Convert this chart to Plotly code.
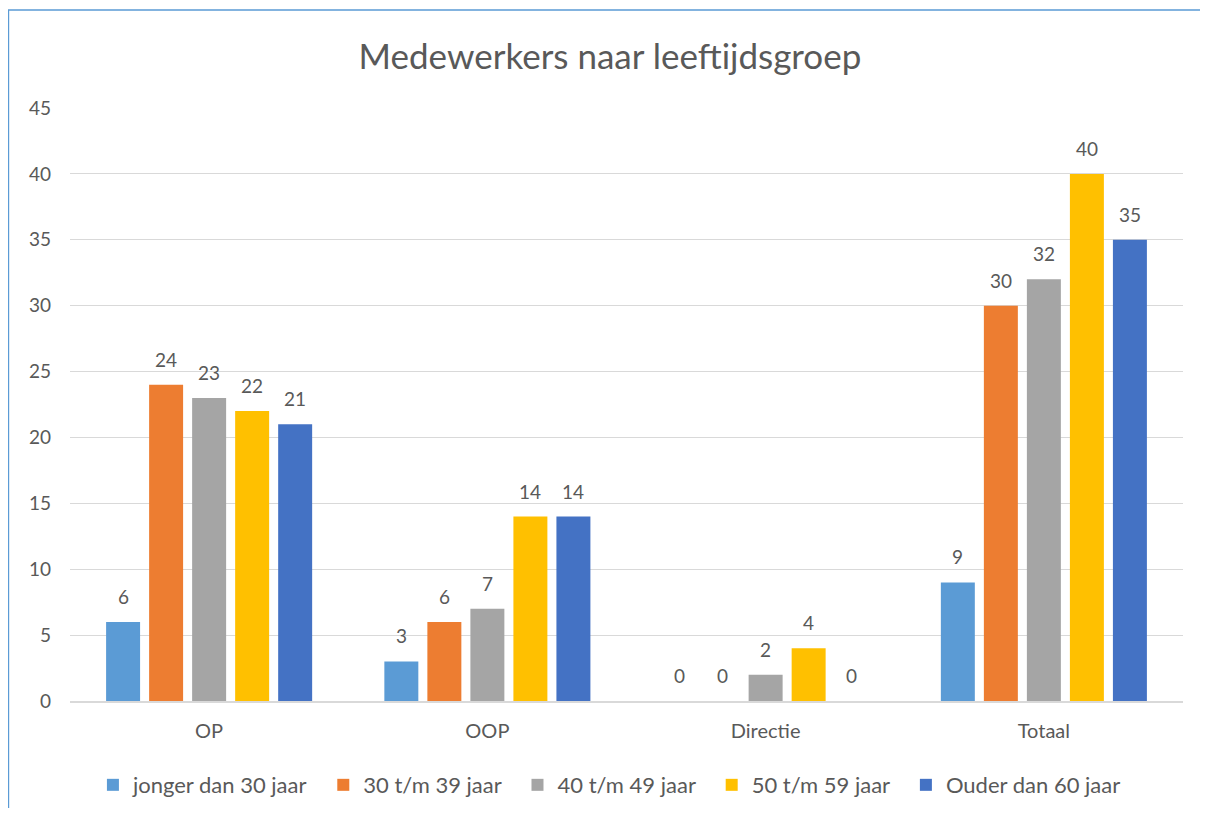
import plotly.graph_objects as go

categories = ["OP", "OOP", "Directie", "Totaal"]
series_names = ["jonger dan 30 jaar", "30 t/m 39 jaar", "40 t/m 49 jaar",
                "50 t/m 59 jaar", "Ouder dan 60 jaar"]
values = [
    [6, 3, 0, 9],
    [24, 6, 0, 30],
    [23, 7, 2, 32],
    [22, 14, 4, 40],
    [21, 14, 0, 35],
]
colors = ["#5B9BD5", "#ED7D31", "#A5A5A5", "#FFC000", "#4472C4"]
y_ticks = list(range(0, 50, 5))

font_family = "Lato, 'Noto Sans', sans-serif"
text_color = "#595959"
bargap = 0.227

fig = go.Figure()
for name, vals, col in zip(series_names, values, colors):
    fig.add_trace(go.Bar(
        x=categories,
        y=vals,
        name=name + "\u00a0\u00a0",  # a bit of extra room between legend items
        marker=dict(color=col, line_width=0),
    ))

# value labels above each bar
n = len(series_names)
slot = (1 - bargap) / n
for i, vals in enumerate(values):
    for j, v in enumerate(vals):
        fig.add_annotation(
            x=j - (1 - bargap) / 2 + (i + 0.5) * slot,
            y=v,
            text=str(v),
            showarrow=False,
            yanchor="bottom",
            yshift=12,
            font=dict(size=19, color=text_color, family=font_family),
        )

fig.update_layout(
    width=1192,
    height=800,
    margin=dict(l=62, r=17, t=100, b=107, autoexpand=False),
    paper_bgcolor="white",
    plot_bgcolor="white",
    barmode="group",
    bargap=bargap,
    bargroupgap=0.21,
    font=dict(family=font_family, color=text_color, size=19),
    title=dict(
        text="Medewerkers naar leeftijdsgroep",
        x=0.505, xref="container", xanchor="center",
        y=1 - 49 / 800, yref="container", yanchor="middle",
        font=dict(size=35, color=text_color, family=font_family),
    ),
    legend=dict(
        orientation="h",
        x=0.4896, xanchor="center",
        y=-0.1417, yanchor="middle",
        font=dict(size=22, color=text_color),
        traceorder="normal",
    ),
    xaxis=dict(
        showgrid=False,
        showline=True,
        linecolor="#D9D9D9",
        linewidth=1.5,
        ticks="",
        ticklabelstandoff=11,
        automargin=False,
        tickfont=dict(size=20, color=text_color),
    ),
    yaxis=dict(
        range=[0, 45],
        tickvals=y_ticks,
        showgrid=True,
        gridcolor="#D9D9D9",
        gridwidth=1.2,
        zeroline=False,
        showline=False,
        ticks="",
        ticklabelstandoff=18,
        automargin=False,
        tickfont=dict(size=19, color=text_color),
    ),
)

# chart border: only the left and top edges are visible in the crop
fig.add_shape(
    type="path", xref="paper", yref="paper",
    path="M -0.0553,-0.3 L -0.0553,1.1653 L 1.2,1.1653",
    line=dict(color="#5B9BD5", width=1.5),
    layer="below",
)

fig.write_html("out.html")
